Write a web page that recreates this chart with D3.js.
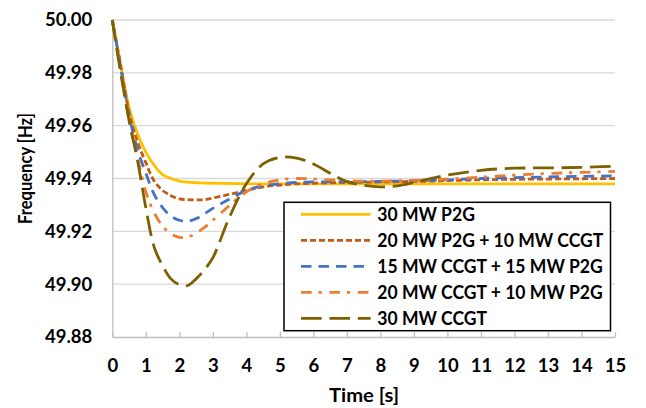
<!DOCTYPE html>
<html><head><meta charset="utf-8">
<script src="https://cdn.jsdelivr.net/npm/d3@7/dist/d3.min.js"></script>
<style>
html,body{margin:0;padding:0;background:#fff;}
text{font-family:Lato,"Open Sans",sans-serif;font-weight:bold;fill:#000;}
</style></head>
<body>
<svg id="c" width="646" height="408"></svg>
<script>
const time = [0,0.25,0.5,0.75,1,1.25,1.5,1.75,2,2.25,2.5,2.75,3,3.5,4,4.5,5,5.5,6,6.5,7,7.5,8,8.5,9,9.5,10,11,12,13,14,15];
const p2g30 = [50,49.983,49.967,49.957,49.950,49.945,49.9415,49.940,49.939,49.9386,49.9384,49.9383,49.9382,49.9381,49.938,49.938,49.938,49.938,49.938,49.938,49.938,49.938,49.938,49.938,49.938,49.938,49.938,49.938,49.938,49.938,49.938,49.938];
const p2g20ccgt10 = [50,49.983,49.965,49.954,49.946,49.939,49.9355,49.9335,49.9323,49.932,49.9319,49.932,49.9326,49.934,49.9355,49.9368,49.9375,49.938,49.9382,49.9384,49.9385,49.9386,49.9387,49.9388,49.9389,49.939,49.9392,49.9395,49.9397,49.9398,49.9399,49.940];
const ccgt15p2g15 = [50,49.982,49.964,49.951,49.942,49.934,49.929,49.9258,49.9242,49.9238,49.9248,49.9266,49.9287,49.9322,49.9355,49.9372,49.938,49.9385,49.9387,49.9388,49.9388,49.9388,49.9389,49.939,49.9391,49.9393,49.9395,49.940,49.9403,49.9406,49.9408,49.941];
const ccgt20p2g10 = [50,49.981,49.962,49.948,49.935,49.927,49.922,49.919,49.9177,49.9178,49.9193,49.9215,49.9242,49.9298,49.935,49.938,49.9395,49.940,49.9398,49.9395,49.9392,49.939,49.939,49.9391,49.9393,49.9395,49.9398,49.9405,49.9413,49.9419,49.9423,49.9427];
const ccgt30 = [50,49.980,49.962,49.947,49.929,49.914,49.907,49.902,49.8998,49.8995,49.902,49.9055,49.910,49.9255,49.938,49.9455,49.948,49.9477,49.9455,49.942,49.9388,49.9374,49.9368,49.9372,49.9385,49.940,49.9413,49.9431,49.9439,49.944,49.9442,49.9447];
const seriesNames = ["30 MW P2G","20 MW P2G + 10 MW CCGT","15 MW CCGT + 15 MW P2G","20 MW CCGT + 10 MW P2G","30 MW CCGT"];
const seriesValues = [p2g30,p2g20ccgt10,ccgt15p2g15,ccgt20p2g10,ccgt30];
const xTicks = [0,1,2,3,4,5,6,7,8,9,10,11,12,13,14,15];
const yTicks = [49.88,49.90,49.92,49.94,49.96,49.98,50.00];

const styles = [
  {color:"#FFC000", dash:null},
  {color:"#C55A11", dash:"6,3"},
  {color:"#4472C4", dash:"10.5,7"},
  {color:"#ED7D31", dash:"10.7,6.7,3.3,7.7"},
  {color:"#7F6000", dash:"20.7,7.7"}
];

const svg = d3.select("#c");
const x = d3.scaleLinear().domain([0,15]).range([112.3,615]);
const y = d3.scaleLinear().domain([49.88,50.00]).range([337,20]);

// gridlines
svg.append("g").selectAll("line").data(yTicks.slice(1)).join("line")
  .attr("x1",x(0)).attr("x2",x(15)).attr("y1",d=>y(d)).attr("y2",d=>y(d))
  .attr("stroke","#d9d9d9").attr("stroke-width",1.3);

// axes
const xAxis = svg.append("g").attr("transform",`translate(0,${y(49.88)})`)
  .call(d3.axisBottom(x).tickValues(xTicks).tickSizeInner(-5).tickSizeOuter(0).tickFormat(d3.format("d")).tickPadding(22));
xAxis.select(".domain").attr("stroke","#bfbfbf").attr("stroke-width",1.3);
xAxis.selectAll(".tick line").attr("stroke","#bfbfbf").attr("stroke-width",1.3);
xAxis.selectAll("text").attr("font-size","18.5px").attr("font-family","Lato").attr("font-weight","bold").attr("fill","#000").attr("dy","0.71em").attr("y",null)
  .attr("transform","translate(0,21.5)");

const yAxis = svg.append("g").attr("transform",`translate(${x(0)},0)`)
  .call(d3.axisLeft(y).tickValues(yTicks).tickSize(0).tickFormat(d3.format(".2f")).tickPadding(20));
yAxis.select(".domain").attr("stroke","#bfbfbf").attr("stroke-width",1.3);
yAxis.selectAll("text").attr("font-size","18.5px").attr("font-family","Lato").attr("font-weight","bold").attr("fill","#000");

// lines
const line = d3.line().x((d,i)=>x(time[i])).y(d=>y(d)).curve(d3.curveCatmullRom.alpha(0.5));
const lg = svg.append("g");
[0,1,2,3,4].forEach(k=>{
  lg.append("path").attr("d",line(seriesValues[k]))
    .attr("fill","none").attr("stroke",styles[k].color).attr("stroke-width",2.8)
    .attr("stroke-dasharray",styles[k].dash);
});

// legend
const leg = svg.append("g");
leg.append("rect").attr("x",284).attr("y",202.3).attr("width",326.5).attr("height",128.4)
  .attr("fill","#fff").attr("stroke","#000").attr("stroke-width",1.5);
const rowY = d3.scaleLinear().domain([0,4]).range([214.3,318.3]);
const legTexts = [];
seriesNames.forEach((n,i)=>{
  leg.append("line").attr("x1",301).attr("x2",370.7).attr("y1",rowY(i)).attr("y2",rowY(i))
    .attr("stroke",styles[i].color).attr("stroke-width",2.8).attr("stroke-dasharray",styles[i].dash);
  legTexts.push(leg.append("text").attr("x",377.3).attr("y",rowY(i)).attr("dy","0.35em")
    .attr("font-size","18.5px").text(n));
});
// condense legend text to the reference width (widest row ≈ 226px)
const refW = legTexts[1].node().getComputedTextLength();
const k = 226/refW;
legTexts.forEach(t=>{
  const w = t.node().getComputedTextLength();
  t.attr("textLength",w*k).attr("lengthAdjust","spacingAndGlyphs");
});

// titles
svg.append("text").attr("x",364).attr("y",401.5).attr("text-anchor","middle").attr("font-size","18.5px")
  .attr("textLength",70).attr("lengthAdjust","spacingAndGlyphs").text("Time [s]");
svg.append("text").attr("transform","translate(31.5,168.5) rotate(-90)").attr("text-anchor","middle").attr("font-size","18.5px")
  .attr("textLength",111).attr("lengthAdjust","spacingAndGlyphs").text("Frequency [Hz]");
</script>
</body></html>
